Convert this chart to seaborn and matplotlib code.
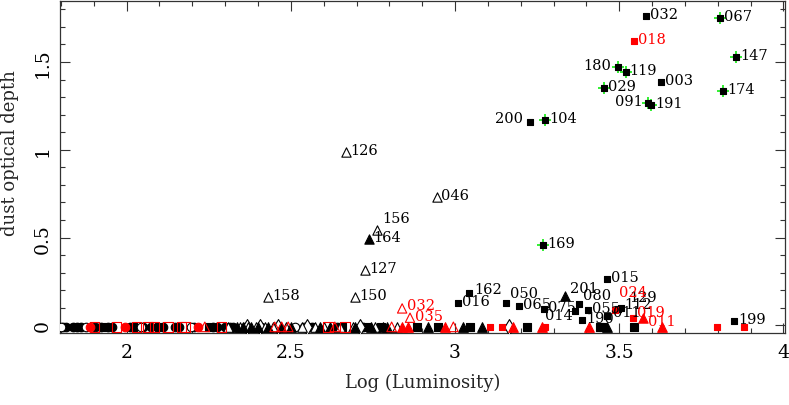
import numpy as np
import pandas as pd
import matplotlib
matplotlib.use("Agg")
import matplotlib.pyplot as plt
from matplotlib.ticker import MultipleLocator, FixedLocator, FixedFormatter
import seaborn as sns

# ---------------- data ----------------
# black squares with a green cross
green_names = ["067", "147", "180", "119", "029", "174", "091", "191", "104", "169"]
green_x = [3.806, 3.856, 3.495, 3.520, 3.454, 3.816, 3.589, 3.597, 3.274, 3.268]
green_y = [1.748, 1.530, 1.470, 1.445, 1.350, 1.337, 1.265, 1.256, 1.172, 0.460]

# labelled black squares
blk_names = ["032", "003", "200", "015", "162", "016", "050", "065", "075", "014",
             "080", "190", "055", "112", "129", "011", "199"]
blk_x = [3.581, 3.626, 3.229, 3.464, 3.044, 3.010, 3.154, 3.194, 3.270, 3.366,
         3.378, 3.388, 3.405, 3.497, 3.505, 3.462, 3.851]
blk_y = [1.763, 1.385, 1.161, 0.267, 0.186, 0.129, 0.125, 0.108, 0.093, 0.085,
         0.121, 0.030, 0.087, 0.094, 0.100, 0.053, 0.028]

# labelled red squares
red_names = ["018", "024", "019"]
red_x = [3.546, 3.488, 3.542]
red_y = [1.618, 0.087, 0.044]

# labelled open black triangles
otri_names = ["126", "046", "156", "127", "158", "150"]
otri_x = [2.668, 2.944, 2.761, 2.726, 2.431, 2.695]
otri_y = [0.987, 0.731, 0.542, 0.314, 0.163, 0.163]

# labelled open red triangles
rotri_names = ["032", "035"]
rotri_x = [2.839, 2.863]
rotri_y = [0.097, 0.044]

# labelled filled black triangles
tri_names = ["164", "201"]
tri_x = [2.739, 3.336]
tri_y = [0.490, 0.165]

# labelled filled red triangle
rtri_names = ["011"]
rtri_x = [3.574]
rtri_y = [0.040]

# unlabelled objects sitting at (about) zero optical depth
zero_depth = -0.008
z_blk_sq = [1.850, 1.930, 2.020, 2.100, 2.250, 2.558, 2.655, 2.731, 2.776, 2.883,
            2.949, 3.046, 3.219, 3.442, 3.452, 3.544]
z_blk_tri = [2.335, 2.355, 2.380, 2.400, 2.430, 2.470, 2.500, 2.588, 2.620, 2.695,
             2.745, 2.781, 2.792, 2.919, 3.025, 3.081, 3.462]
z_blk_otri = [2.310, 2.345, 2.370, 2.395, 2.420, 2.445, 2.485, 2.533, 2.575, 2.600,
              2.650, 2.690, 2.756, 2.822]
z_blk_circ = [1.805, 1.816, 1.836, 1.848, 1.862, 1.905, 1.923, 1.943, 1.955, 2.009,
              2.050, 2.075, 2.111, 2.146, 2.160, 2.205, 2.263, 2.275, 2.300, 2.314,
              2.325, 2.360, 2.410, 2.565, 2.640, 2.720]
z_blk_ocirc = [1.801, 1.877, 2.045, 2.197, 2.512, 2.540]
z_blk_odiam = [2.365, 2.405, 2.460, 2.548, 2.710, 3.163]
z_red_sq = [3.107, 3.142, 3.274, 3.798, 3.879]
z_red_osq = [1.902, 1.969, 2.030, 2.065, 2.085, 2.126, 2.167, 2.177, 2.289, 2.614, 2.665]
z_red_circ = [1.887, 1.994, 2.217]
z_red_tri = [2.838, 2.858, 2.970, 3.178, 3.264, 3.409, 3.630]
z_red_otri = [2.238, 2.451, 2.472, 2.492, 2.634, 2.807, 2.995]

# ---------------- style ----------------
sns.set_style("ticks")
plt.rcParams["font.family"] = ["DejaVu Serif"]

RED = "#ff0000"
GREEN = "#11ee11"
PX = 0.72  # points per pixel at dpi 100

fig, ax = plt.subplots(figsize=(7.89, 4.06), dpi=100)
fig.subplots_adjust(left=60 / 789, right=785 / 789, bottom=1 - 334 / 406, top=1 - 2 / 406)


def pts(x, y, marker, size, face, edge, lw=0.8, z=3):
    df = pd.DataFrame({"x": x, "y": y})
    sns.scatterplot(data=df, x="x", y="y", ax=ax, marker=marker, s=size,
                    facecolor=face, edgecolor=edge, linewidth=lw, legend=False, zorder=z)


def zrow(xs):
    return [zero_depth] * len(xs)


# bottom row first
pts(z_blk_circ, zrow(z_blk_circ), "o", 38, "black", "black")
pts(z_blk_sq, zrow(z_blk_sq), "s", 30, "black", "black")
pts(z_blk_ocirc, zrow(z_blk_ocirc), "o", 38, "white", "black")
pts(z_blk_odiam, zrow(z_blk_odiam), "d", 65, "white", "black")
pts(z_blk_otri, zrow(z_blk_otri), "^", 48, "white", "black")
pts(z_blk_tri, zrow(z_blk_tri), "^", 48, "black", "black")
pts(z_red_osq, zrow(z_red_osq), "s", 50, "none", RED)
pts(z_red_circ, zrow(z_red_circ), "o", 38, RED, RED)
pts(z_red_otri, zrow(z_red_otri), "^", 48, "none", RED)
pts(z_red_tri, zrow(z_red_tri), "^", 48, RED, RED)
pts(z_red_sq, zrow(z_red_sq), "s", 20, RED, RED)

# labelled objects
pts(green_x, green_y, "+", 80, GREEN, GREEN, lw=1.2)
pts(green_x, green_y, "s", 16, "black", "black", z=4)
pts(blk_x, blk_y, "s", 18, "black", "black")
pts(red_x, red_y, "s", 20, RED, RED)
pts(otri_x, otri_y, "^", 45, "white", "black")
pts(rotri_x, rotri_y, "^", 45, "none", RED)
pts(tri_x, tri_y, "^", 45, "black", "black")
pts(rtri_x, rtri_y, "^", 45, RED, RED)

# label offsets in pixels (dx, dy up); default sits just right of the marker
default_off = (4, 2, "left")
label_off = {
    ("k", "200"): (-7, 4, "right"),
    ("k", "180"): (-6, 2, "right"),
    ("k", "091"): (-6, 2, "right"),
    ("k", "156"): (6, 12, "left"),
    ("k", "050"): (4, 10, "left"),
    ("k", "080"): (4, 9, "left"),
    ("k", "129"): (8, 11, "left"),
    ("k", "112"): (6, 5, "left"),
    ("k", "014"): (-2, -4, "right"),
    ("k", "011"): (6, 4, "left"),
    ("k", "201"): (5, 8, "left"),
    ("k", "162"): (5, 4, "left"),
    ("r", "024"): (4, 18, "left"),
    ("r", "019"): (4, 6, "left"),
    ("r", "011"): (5, -3, "left"),
    ("r", "032"): (5, 3, "left"),
    ("r", "035"): (5, 2, "left"),
}


def put_labels(names, xs, ys, col):
    key = "r" if col == RED else "k"
    for n, x, y in zip(names, xs, ys):
        dx, dy, ha = label_off.get((key, n), default_off)
        ax.annotate(n, (x, y), xytext=(dx * PX, dy * PX), textcoords="offset points",
                    ha=ha, va="center", fontsize=10.5, color=col, zorder=5)


put_labels(green_names, green_x, green_y, "black")
put_labels(blk_names, blk_x, blk_y, "black")
put_labels(red_names, red_x, red_y, RED)
put_labels(otri_names, otri_x, otri_y, "black")
put_labels(rotri_names, rotri_x, rotri_y, RED)
put_labels(tri_names, tri_x, tri_y, "black")
put_labels(rtri_names, rtri_x, rtri_y, RED)

# ---------------- axes ----------------
ax.set_xlim(1.797, 4.005)
ax.set_ylim(-0.043, 1.847)
ax.xaxis.set_major_locator(FixedLocator([2, 2.5, 3, 3.5, 4]))
ax.xaxis.set_major_formatter(FixedFormatter(["2", "2.5", "3", "3.5", "4"]))
ax.xaxis.set_minor_locator(MultipleLocator(0.1))
ax.yaxis.set_major_locator(FixedLocator([0, 0.5, 1, 1.5]))
ax.yaxis.set_major_formatter(FixedFormatter(["0", "0.5", "1", "1.5"]))
ax.yaxis.set_minor_locator(MultipleLocator(0.1))
ax.tick_params(which="both", direction="in", top=True, right=True, width=0.8, colors="#333333")
ax.tick_params(which="major", length=7.2, labelsize=13.5, labelcolor="black")
ax.tick_params(which="minor", length=3.6)
ax.tick_params(axis="x", which="major", pad=7)
ax.tick_params(axis="y", which="major", pad=6)
for lab in ax.get_yticklabels():
    lab.set_rotation(90)
    lab.set_va("center")
for sp in ax.spines.values():
    sp.set_linewidth(0.9)
    sp.set_color("#333333")
    sp.set_visible(True)

ax.set_xlabel("Log (Luminosity)", fontsize=13, labelpad=9)
ax.set_ylabel("dust optical depth", fontsize=13)
ax.yaxis.set_label_coords(-(60 - 19) / 725, (334 - 153) / 332)

fig.savefig("out.png", dpi=100)
